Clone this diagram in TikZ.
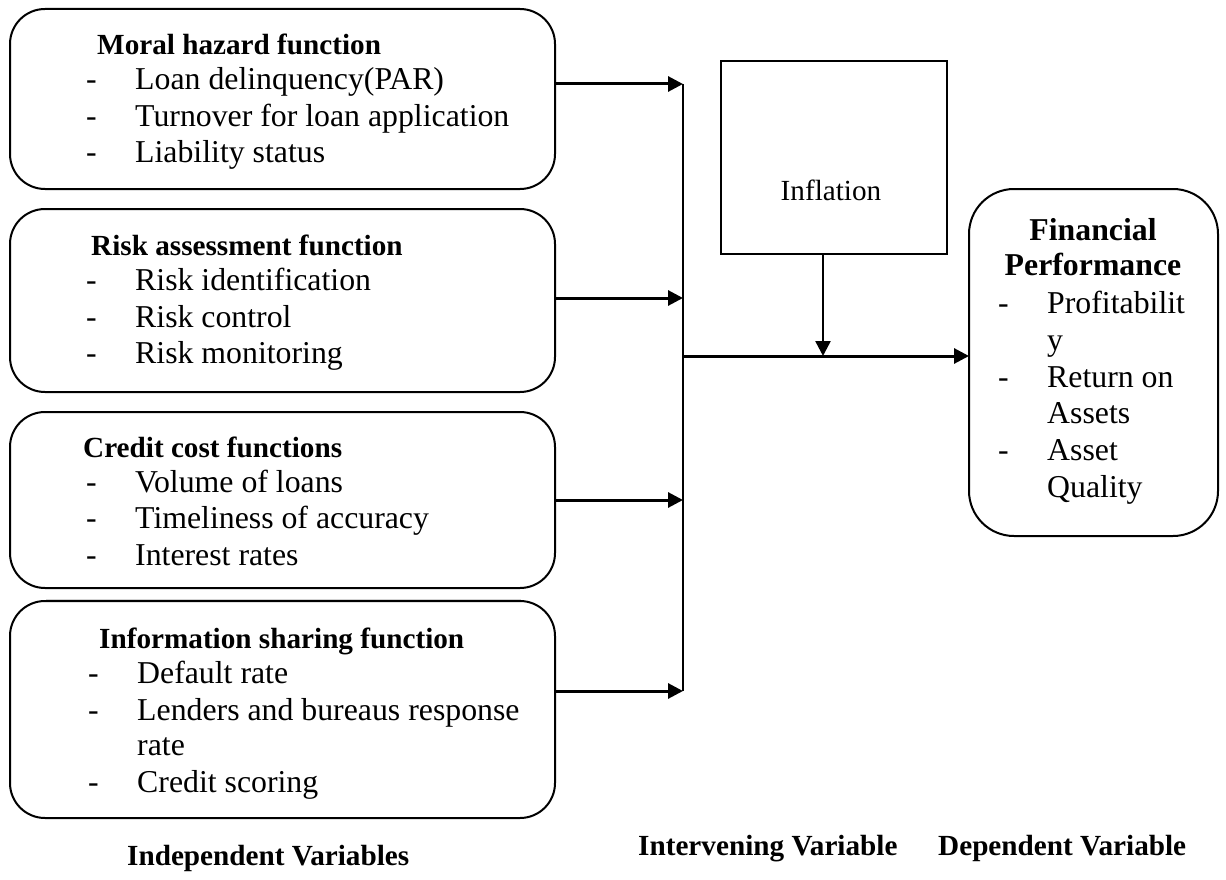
\documentclass[tikz,border=0pt]{standalone}
\usepackage{fontspec}
\setmainfont{Liberation Serif}
\usetikzlibrary{arrows.meta}
\begin{document}
\begin{tikzpicture}[x=1pt,y=-1pt,
  lbox/.style={draw, line width=2pt, rounded corners=35pt, inner sep=0pt, outer sep=0pt},
  sqbox/.style={draw, line width=2.5pt, inner sep=0pt, outer sep=0pt},
  ttl/.style={anchor=base west, inner sep=0pt, font=\fontsize{29.2}{35}\selectfont\bfseries},
  btl/.style={anchor=base, inner sep=0pt, font=\fontsize{31.8}{35}\selectfont\bfseries},
  itm/.style={anchor=base west, inner sep=0pt, font=\fontsize{31.8}{36.5}\selectfont},
  lbl/.style={anchor=base west, inner sep=0pt, font=\fontsize{29.2}{35}\selectfont\bfseries},
  arr/.style={line width=3pt, -{Triangle[length=15pt,width=15pt]}},
  bus/.style={line width=2pt}
]
\useasboundingbox (0,0) rectangle (1226,880);

% boxes
\node[lbox, minimum width=545pt, minimum height=180pt] (b1) at (282.5,99) {};
\node[lbox, minimum width=545pt, minimum height=183pt] (b2) at (282.5,300.5) {};
\node[lbox, minimum width=545pt, minimum height=176pt] (b3) at (282.5,500) {};
\node[lbox, minimum width=545pt, minimum height=217pt] (b4) at (282.5,709.5) {};
\node[sqbox, minimum width=226pt, minimum height=193pt] (infl) at (834,157.5) {};
\node[lbox, rounded corners=45pt, minimum width=249pt, minimum height=347pt] (fp) at (1093.5,362.5) {};

% faint artifact line
\draw[gray!35, line width=1pt] (46,599) -- (521,599);

% box 1 text
\node[ttl] (t1) at (97,55) {Moral hazard function};
\node[itm] (d11) at (86,90) {-};
\node[itm] (i11) at (135,90) {Loan delinquency(PAR)};
\node[itm] (d12) at (86,127) {-};
\node[itm] (i12) at (135,127) {Turnover for loan application};
\node[itm] (d13) at (86,163) {-};
\node[itm] (i13) at (135,163) {Liability status};

% box 2 text
\node[ttl] (t2) at (91,255) {Risk assessment function};
\node[itm] (d21) at (86,290) {-};
\node[itm] (i21) at (135,290) {Risk identification};
\node[itm] (d22) at (86,327) {-};
\node[itm] (i22) at (135,327) {Risk control};
\node[itm] (d23) at (86,363) {-};
\node[itm] (i23) at (135,363) {Risk monitoring};

% box 3 text
\node[ttl] (t3) at (83,457) {Credit cost functions};
\node[itm] (d31) at (86,492) {-};
\node[itm] (i31) at (135,492) {Volume of loans};
\node[itm] (d32) at (86,528) {-};
\node[itm] (i32) at (135,528) {Timeliness of accuracy};
\node[itm] (d33) at (86,565) {-};
\node[itm] (i33) at (135,565) {Interest rates};

% box 4 text
\node[ttl] (t4) at (99,648) {Information sharing function};
\node[itm] (d41) at (88,683) {-};
\node[itm] (i41) at (137,683) {Default rate};
\node[itm] (d42) at (88,720) {-};
\node[itm] (i42) at (137,720) {Lenders and bureaus response};
\node[itm] (i42b) at (137,755) {rate};
\node[itm] (d43) at (88,792) {-};
\begin{scope}
\clip (100,760) rectangle (500,798);
\node[itm] (i43) at (137,792) {Credit scoring};
\end{scope}

% inflation
\node[anchor=base, inner sep=0pt, font=\fontsize{29.2}{35}\selectfont] (inflt) at (831,200) {Inflation};

% financial performance
\node[btl] (ft1) at (1093,240) {Financial};
\node[btl] (ft2) at (1093,275) {Performance};
\node[itm] (fd1) at (998,313) {-};
\node[itm] (fi1) at (1047,313) {Profitabilit};
\node[itm] (fi1b) at (1047,350) {y};
\node[itm] (fd2) at (998,387) {-};
\node[itm] (fi2) at (1047,387) {Return on};
\node[itm] (fi2b) at (1047,423) {Assets};
\node[itm] (fd3) at (998,460) {-};
\node[itm] (fi3) at (1047,460) {Asset};
\node[itm] (fi3b) at (1047,497) {Quality};

% bottom labels
\node[lbl] (l1) at (127,865) {Independent Variables};
\node[lbl] (l2) at (638,855) {Intervening Variable};
\node[lbl] (l3) at (938,855) {Dependent Variable};

% connectors
\coordinate (j1) at (683,84);
\coordinate (j2) at (683,298);
\coordinate (j3) at (683,500);
\coordinate (j4) at (683,691);
\coordinate (jm) at (683,356);
\coordinate (jt) at (823,356);
\draw[bus] (j1) -- (j4);
\draw[arr] (b1.east |- j1) -- (j1);
\draw[arr] (b2.east |- j2) -- (j2);
\draw[arr] (b3.east |- j3) -- (j3);
\draw[arr] (b4.east |- j4) -- (j4);
\draw[arr] (jm) -- (fp.west |- jm);
\draw[arr, line width=2.5pt] (infl.south -| jt) -- (jt);
\end{tikzpicture}
\end{document}
